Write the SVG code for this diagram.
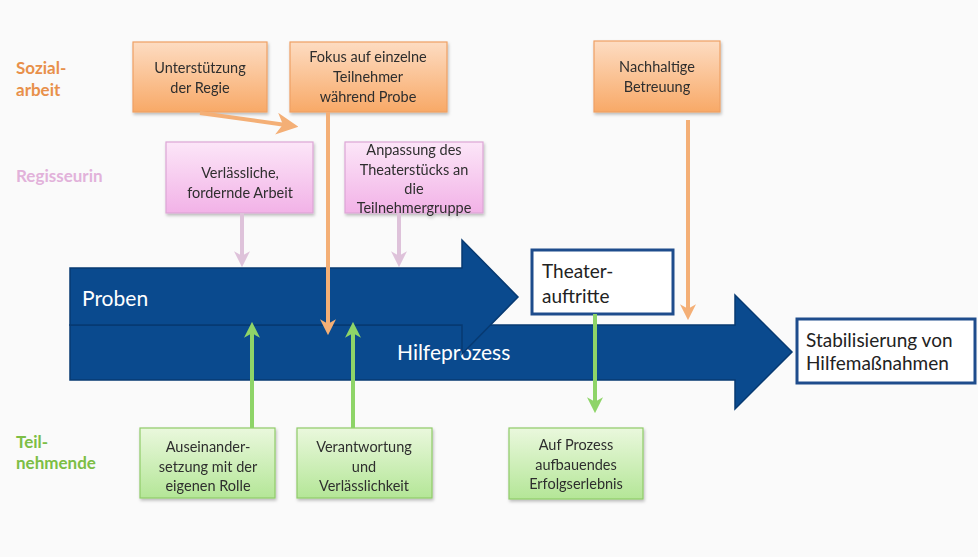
<svg xmlns="http://www.w3.org/2000/svg" width="978" height="557" viewBox="0 0 978 557">
<style>
.lane{font-family:Lato,"Liberation Sans",sans-serif;font-weight:bold;font-size:17px}
.bt{font-family:Lato,"Liberation Sans",sans-serif;font-size:14.5px;fill:#2E2E2E;text-anchor:middle}
.bt2{font-family:Lato,"Liberation Sans",sans-serif;font-size:19px;fill:#222}
.wt{font-family:Lato,"Liberation Sans",sans-serif;font-size:21px;fill:#fff}
.ob{fill:url(#go);stroke:#EFA064;stroke-width:1.2}
.pb{fill:url(#gp);stroke:#DDA6D6;stroke-width:1.2}
.gb{fill:url(#gg);stroke:#8FCB68;stroke-width:1.2}
.wb{fill:#fff;stroke:#1E4C8C;stroke-width:3}
.big{fill:#0A4A8E;stroke:#073A72;stroke-width:1.5}
.oa{stroke:#F4AF76;stroke-width:4;fill:none}
.pa{stroke:#DEC2DA;stroke-width:4;fill:none}
.ga{stroke:#8ED468;stroke-width:4;fill:none}
</style>
<defs>
<linearGradient id="go" x1="0" y1="0" x2="0" y2="1"><stop offset="0" stop-color="#FDDCC2"/><stop offset="1" stop-color="#F8A967"/></linearGradient>
<linearGradient id="gp" x1="0" y1="0" x2="0" y2="1"><stop offset="0" stop-color="#FCE6F8"/><stop offset="1" stop-color="#F2B2E7"/></linearGradient>
<linearGradient id="gg" x1="0" y1="0" x2="0" y2="1"><stop offset="0" stop-color="#EAF8DD"/><stop offset="1" stop-color="#B4E697"/></linearGradient>
<filter id="sh" x="-10%" y="-10%" width="130%" height="140%"><feDropShadow dx="1" dy="2" stdDeviation="1.5" flood-color="#000" flood-opacity="0.25"/></filter>
<marker id="mo" viewBox="0 0 14 14" refX="6" refY="7" markerWidth="16" markerHeight="16" markerUnits="userSpaceOnUse" orient="auto"><path d="M0,0 L14,7 L0,14 L4,7 z" fill="#F4AF76"/></marker>
<marker id="mob" viewBox="0 0 14 14" refX="6" refY="7" markerWidth="22" markerHeight="22" markerUnits="userSpaceOnUse" orient="auto"><path d="M0,0 L14,7 L0,14 L4,7 z" fill="#F4AF76"/></marker>
<marker id="mp" viewBox="0 0 14 14" refX="6" refY="7" markerWidth="16" markerHeight="16" markerUnits="userSpaceOnUse" orient="auto"><path d="M0,0 L14,7 L0,14 L4,7 z" fill="#DEC2DA"/></marker>
<marker id="mg" viewBox="0 0 14 14" refX="6" refY="7" markerWidth="16" markerHeight="16" markerUnits="userSpaceOnUse" orient="auto"><path d="M0,0 L14,7 L0,14 L4,7 z" fill="#8ED468"/></marker>
</defs>
<rect width="978" height="557" fill="#FAFAFA"/>

<g id="lanes">
<text class="lane" fill="#E8904A" x="16" y="74">Sozial-</text>
<text class="lane" fill="#E8904A" x="16" y="96">arbeit</text>
<text class="lane" fill="#E2B2DA" x="16" y="182">Regisseurin</text>
<text class="lane" fill="#7DBE45" x="16" y="448">Teil-</text>
<text class="lane" fill="#7DBE45" x="16" y="469">nehmende</text>
</g>

<g id="hilfeprozess">
<path class="big" d="M70,325 L735,325 L735,295 L792,352 L735,409 L735,380 L70,380 Z"/>
<text class="wt" x="397" y="360">Hilfeprozess</text>
</g>
<g id="proben">
<path class="big" d="M70,268 L462,268 L462,240 L518,297 L462,354 L462,325 L70,325 Z"/>
<text class="wt" x="82" y="306">Proben</text>
</g>

<g id="theater">
<rect class="wb" x="532" y="250" width="141" height="64"/>
<text class="bt2" x="542" y="278">Theater-</text>
<text class="bt2" x="542" y="303">auftritte</text>
</g>
<g id="stabilisierung">
<rect class="wb" x="797" y="319" width="178" height="64"/>
<text class="bt2" x="806" y="347">Stabilisierung von</text>
<text class="bt2" x="806" y="370">Hilfemaßnahmen</text>
</g>

<g id="unterstuetzung" filter="url(#sh)">
<rect class="ob" x="133" y="42" width="134" height="70"/>
<text class="bt" x="200" y="73">Unterstützung</text>
<text class="bt" x="200" y="93">der Regie</text>
</g>
<g id="fokus" filter="url(#sh)">
<rect class="ob" x="290" y="42" width="157" height="70"/>
<text class="bt" x="368" y="62">Fokus auf einzelne</text>
<text class="bt" x="368" y="82">Teilnehmer</text>
<text class="bt" x="368" y="102">während Probe</text>
</g>
<g id="nachhaltig" filter="url(#sh)">
<rect class="ob" x="594" y="41" width="126" height="71"/>
<text class="bt" x="657" y="72">Nachhaltige</text>
<text class="bt" x="657" y="92">Betreuung</text>
</g>

<g id="verlaesslich" filter="url(#sh)">
<rect class="pb" x="166" y="142" width="147" height="71"/>
<text class="bt" x="240" y="178">Verlässliche,</text>
<text class="bt" x="240" y="198">fordernde Arbeit</text>
</g>
<g id="anpassung" filter="url(#sh)">
<rect class="pb" x="345" y="142" width="138" height="71"/>
<text class="bt" x="414" y="155">Anpassung des</text>
<text class="bt" x="414" y="175">Theaterstücks an</text>
<text class="bt" x="414" y="194">die</text>
<text class="bt" x="414" y="213">Teilnehmergruppe</text>
</g>

<g id="auseinander" filter="url(#sh)">
<rect class="gb" x="140" y="428" width="135" height="70"/>
<text class="bt" x="208" y="452">Auseinander-</text>
<text class="bt" x="208" y="472">setzung mit der</text>
<text class="bt" x="208" y="491">eigenen Rolle</text>
</g>
<g id="verantwortung" filter="url(#sh)">
<rect class="gb" x="297" y="428" width="135" height="70"/>
<text class="bt" x="364" y="452">Verantwortung</text>
<text class="bt" x="364" y="472">und</text>
<text class="bt" x="364" y="491">Verlässlichkeit</text>
</g>
<g id="erfolg" filter="url(#sh)">
<rect class="gb" x="509" y="428" width="134" height="71"/>
<text class="bt" x="576" y="450">Auf Prozess</text>
<text class="bt" x="576" y="470">aufbauendes</text>
<text class="bt" x="576" y="489">Erfolgserlebnis</text>
</g>

<g id="connectors">
<line class="oa" x1="200" y1="113" x2="286" y2="125" stroke-width="6" marker-end="url(#mob)"/>
<line class="oa" x1="328" y1="112" x2="328" y2="326" marker-end="url(#mo)"/>
<line class="oa" x1="688" y1="120" x2="688" y2="311" marker-end="url(#mo)"/>
<line class="pa" x1="242" y1="213" x2="242" y2="258" marker-end="url(#mp)"/>
<line class="pa" x1="399" y1="213" x2="399" y2="258" marker-end="url(#mp)"/>
<line class="ga" x1="252" y1="428" x2="252" y2="331" marker-end="url(#mg)"/>
<line class="ga" x1="353" y1="428" x2="353" y2="331" marker-end="url(#mg)"/>
<line class="ga" x1="595" y1="314" x2="595" y2="404" marker-end="url(#mg)"/>
</g>
</svg>
